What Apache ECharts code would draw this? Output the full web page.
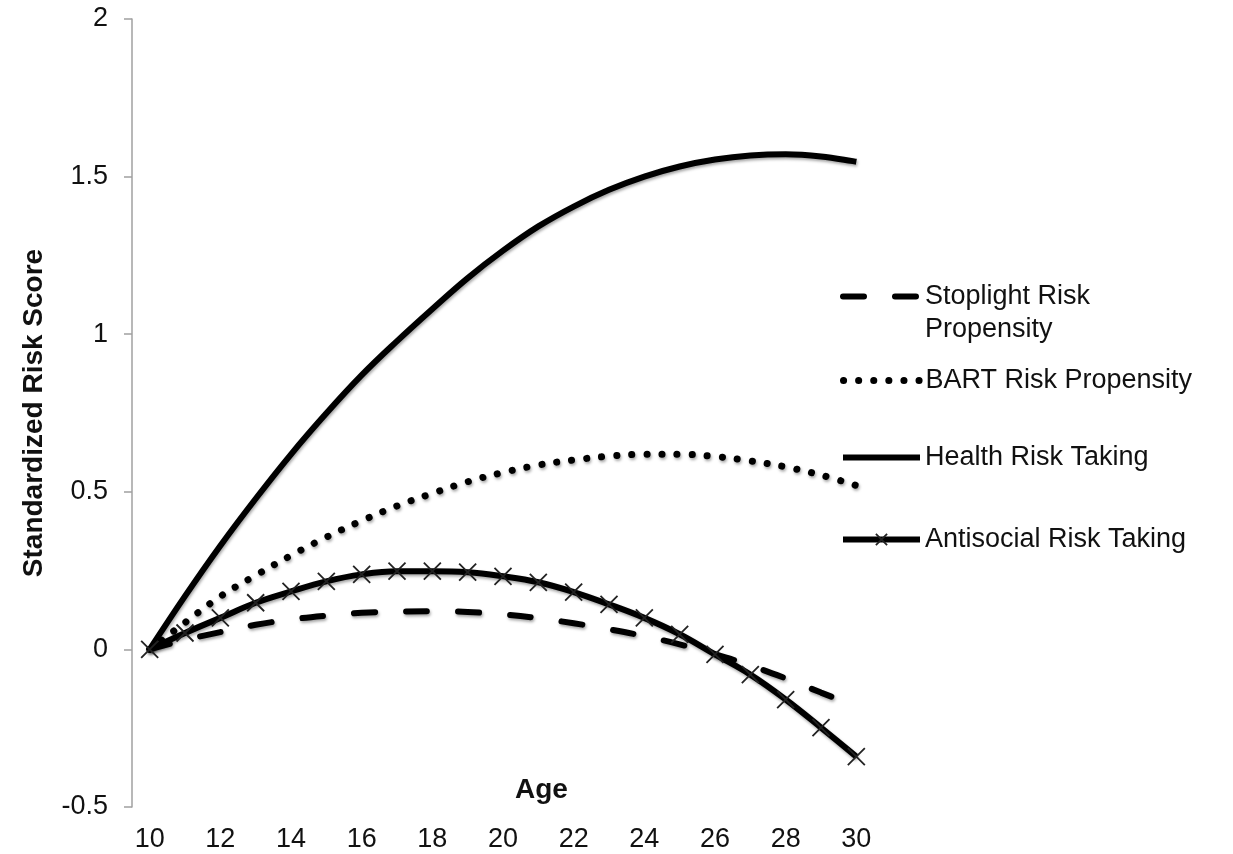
<!DOCTYPE html>
<html>
<head>
<meta charset="utf-8">
<script src="https://cdn.jsdelivr.net/npm/echarts@6/dist/echarts.min.js"></script>
<style>
html,body{margin:0;padding:0;background:#fff;}
#chart{width:1233px;height:854px;}
</style>
</head>
<body>
<div id="chart"></div>
<script>
const ages = ['10','11','12','13','14','15','16','17','18','19','20','21','22','23','24','25','26','27','28','29','30'];
const stoplight = [0, 0.03, 0.055, 0.078, 0.095, 0.107, 0.116, 0.12, 0.121, 0.119, 0.111, 0.099, 0.083, 0.064, 0.042, 0.016, -0.015, -0.051, -0.092, -0.137, -0.18];
const bart = [0, 0.085, 0.168, 0.235, 0.298, 0.356, 0.408, 0.455, 0.495, 0.532, 0.561, 0.585, 0.601, 0.613, 0.619, 0.619, 0.612, 0.598, 0.579, 0.553, 0.52];
const health = [0, 0.169, 0.329, 0.478, 0.619, 0.749, 0.87, 0.978, 1.08, 1.178, 1.265, 1.342, 1.405, 1.458, 1.5, 1.532, 1.554, 1.567, 1.571, 1.564, 1.547];
const antisocial = [0, 0.052, 0.10, 0.148, 0.184, 0.216, 0.238, 0.248, 0.248, 0.245, 0.232, 0.213, 0.182, 0.143, 0.10, 0.048, -0.016, -0.08, -0.159, -0.248, -0.34];
const seriesNames = ['Stoplight Risk Propensity', 'BART Risk Propensity', 'Health Risk Taking', 'Antisocial Risk Taking'];
const legendLabels = ['Stoplight Risk', 'BART Risk Propensity', 'Health Risk Taking', 'Antisocial Risk Taking'];

const FONT = "'Liberation Sans', Arial, sans-serif";
const shadow = {shadowBlur: 3, shadowColor: 'rgba(0,0,0,0.35)', shadowOffsetX: 1, shadowOffsetY: 2};
const chart = echarts.init(document.getElementById('chart'));

const dashStyle = {color: '#000', width: 6, type: [21, 31], cap: 'round'};
const dotStyle = {color: '#000', width: 7, type: [0.1, 15], cap: 'round'};
const solidStyle = {color: '#000', width: 6};

function legendAt(i, top, lineStyle, itemStyle) {
  return {
    data: [seriesNames[i]], left: 840, top: top, orient: 'vertical', padding: 0,
    itemWidth: 77, itemHeight: 14, selectedMode: false,
    formatter: function () { return legendLabels[i]; },
    lineStyle: lineStyle,
    itemStyle: itemStyle || {color: 'rgba(0,0,0,0)', borderWidth: 0},
    textStyle: {fontFamily: FONT, fontSize: 27, color: '#111'}
  };
}

chart.setOption({
  animation: false,
  backgroundColor: '#fff',
  grid: {left: 132, right: 359, top: 19, bottom: 47},
  title: {text: 'Age', left: 510, top: 771, textStyle: {fontFamily: FONT, fontSize: 28, fontWeight: 'bold', color: '#111'}},
  graphic: [{
    type: 'text', left: 925, top: 316,
    style: {text: 'Propensity', font: "27px 'Liberation Sans', Arial, sans-serif", fill: '#111'}
  }],
  legend: [
    legendAt(0, 283, {width: 6, type: [21, 31], cap: 'round', color: '#000'}),
    legendAt(1, 367, {width: 7, type: [0.1, 15], cap: 'round', color: '#000'}),
    legendAt(2, 444, {width: 6, color: '#000'}),
    legendAt(3, 526, {width: 6, color: '#000'}, {color: 'rgba(0,0,0,0)', borderColor: '#222', borderWidth: 1.8})
  ],
  xAxis: {
    type: 'category', data: ages, boundaryGap: true,
    axisLine: {show: false}, axisTick: {show: false},
    axisLabel: {interval: 1, margin: 19, fontFamily: FONT, fontSize: 27, color: '#111'},
    splitLine: {show: false}
  },
  yAxis: {
    type: 'value', min: -0.5, max: 2, interval: 0.5,
    name: 'Standardized Risk Score', nameLocation: 'middle', nameGap: 84,
    nameTextStyle: {fontFamily: FONT, fontSize: 28, fontWeight: 'bold', color: '#111'},
    axisLine: {show: true, lineStyle: {color: '#a0a0a0', width: 1.5}},
    axisTick: {show: true, inside: false, length: 8, lineStyle: {color: '#a0a0a0', width: 1.5}},
    axisLabel: {margin: 24, fontFamily: FONT, fontSize: 27, color: '#111'},
    splitLine: {show: false}
  },
  series: [
    {
      name: seriesNames[0], type: 'line', data: stoplight, smooth: 0.4, symbol: 'none',
      lineStyle: Object.assign({}, dashStyle, shadow),
      itemStyle: {color: '#000'}, z: 2
    },
    {
      name: seriesNames[1], type: 'line', data: bart, smooth: 0.4, symbol: 'none',
      lineStyle: Object.assign({}, dotStyle, shadow),
      itemStyle: {color: '#000'}, z: 3
    },
    {
      name: seriesNames[2], type: 'line', data: health, smooth: 0.4, symbol: 'none',
      lineStyle: Object.assign({}, solidStyle, shadow),
      itemStyle: {color: '#000'}, z: 4
    },
    {
      name: seriesNames[3], type: 'line', data: antisocial, smooth: 0.4,
      symbol: 'path://M0,0L16,16M16,0L0,16', symbolSize: 17, showSymbol: true,
      lineStyle: Object.assign({}, solidStyle, shadow),
      itemStyle: {color: 'rgba(0,0,0,0)', borderColor: '#222', borderWidth: 1.8}, z: 5
    }
  ]
});
</script>
</body>
</html>
